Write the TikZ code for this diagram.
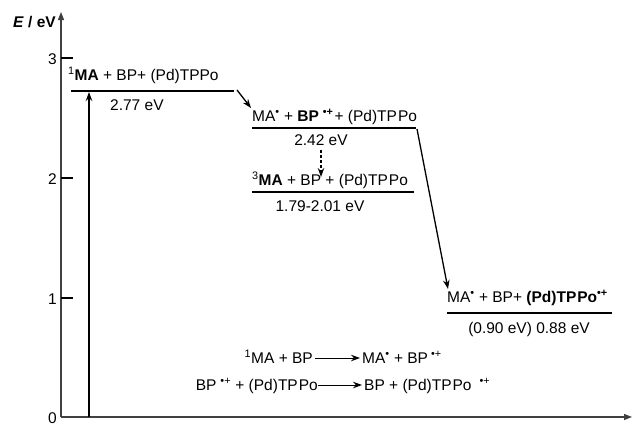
\documentclass[tikz,border=0pt]{standalone}
\usepackage{fontspec}
\setmainfont{Liberation Sans}
\usetikzlibrary{arrows.meta}
\newcommand{\rad}{\textsuperscript{•}}
\newcommand{\radcat}{\textsuperscript{•+}}
\begin{document}
\begin{tikzpicture}[x=1pt,y=-1pt,
  txt/.style={font=\fontsize{15.5}{18}\selectfont, inner sep=0pt},
  level/.style={line width=1.6pt},
  axisline/.style={line width=1.3pt, black!75},
  axisarrow/.style={axisline, -{Triangle[length=8pt,width=6pt]}},
  tick/.style={line width=1.3pt, black},
  arr/.style={line width=1.3pt, -{Stealth[length=9pt,width=6.5pt]}},
]
\useasboundingbox (0,0) rectangle (632,426);

% axes
\coordinate (origin) at (61,417);
\coordinate (ytop) at (61,12);
\coordinate (xend) at (632,417);
\draw[axisarrow] (origin) -- (ytop);
\draw[axisarrow] (origin) -- (xend);
\node[txt, anchor=east] (ylab) at (56,22) {\textbf{\textit{E}} \textbf{/ eV}};

% ticks and tick labels
\foreach \v/\yy in {0/417,1/298,2/178,3/58}{
  \node[txt, anchor=east] (t\v) at (57,\yy+1) {\v};
}
\foreach \yy in {298,178,58}{
  \draw[tick] (61,\yy) -- (73,\yy);
}

% level 1: singlet excited MA
\coordinate (l1a) at (71,91);
\coordinate (l1b) at (234,91);
\draw[level] (l1a) -- (l1b);
\node[txt, anchor=base west] (l1t) at (68,80) {\textsuperscript{1}\textbf{MA} + BP+ (Pd)TPPo};
\node[txt, anchor=base west] (l1e) at (110,110) {2.77 eV};

% level 2: radical ion pair
\coordinate (l2a) at (252,128);
\coordinate (l2b) at (416,128);
\draw[level] (l2a) -- (l2b);
\node[txt, anchor=base west] (l2t) at (252,121) {MA\rad{} + \textbf{BP}\hspace{4pt}\textsuperscript{\textbf{•+}}\hspace{1pt}+ (Pd)TP\hspace{1pt}Po};
\node[txt, anchor=base] (l2e) at (321,145) {2.42 eV};

% level 3: triplet MA
\coordinate (l3a) at (252,192);
\coordinate (l3b) at (414,192);
\draw[level] (l3a) -- (l3b);
\node[txt, anchor=base west] (l3t) at (252,185) {\textsuperscript{3}\textbf{MA} + BP + (Pd)TP\hspace{1pt}Po};
\node[txt, anchor=base] (l3e) at (320,211) {1.79-2.01 eV};

% level 4: porphyrin radical cation
\coordinate (l4a) at (447,313);
\coordinate (l4b) at (612,313);
\draw[level] (l4a) -- (l4b);
\node[txt, anchor=base west] (l4t) at (447,302) {MA\rad{} + BP+ \textbf{(Pd)TP\hspace{1pt}Po}\textsuperscript{\textbf{•+}}};
\node[txt, anchor=base] (l4e) at (529,333) {(0.90 eV) 0.88 eV};

% transitions
\coordinate (exc0) at (89,417);
\coordinate (exc1) at (89,92);
\draw[arr] (exc0) -- (exc1);
\coordinate (et1) at (237,90);
\coordinate (et1e) at (251,108);
\draw[arr] (et1) -- (et1e);
\coordinate (isc0) at (321,150);
\coordinate (isc1) at (321,177);
\draw[arr, dashed, dash pattern=on 3pt off 2pt] (isc0) -- (isc1);
\coordinate (hs0) at (417,129);
\coordinate (hs1) at (448,289);
\draw[arr] (hs0) -- (hs1);

% reaction scheme
\node[txt, anchor=base east] (r1a) at (313,363) {\textsuperscript{1}MA + BP};
\node[txt, anchor=base west] (r1b) at (362,363) {MA\rad{} + BP\hspace{3pt}\radcat};
\draw[arr, line width=1pt] ([xshift=2pt,yshift=5pt]r1a.base east) -- ([xshift=-2pt,yshift=5pt]r1b.base west);
\node[txt, anchor=base east] (r2a) at (318,390) {BP\hspace{4pt}\radcat{} + (Pd)TP\hspace{1pt}Po};
\node[txt, anchor=base west] (r2b) at (364,390) {BP + (Pd)TP\hspace{1pt}Po\hspace{8pt}\radcat};
\draw[arr, line width=1pt] ([yshift=5pt]r2a.base east) -- ([xshift=-2pt,yshift=5pt]r2b.base west);
\end{tikzpicture}
\end{document}
